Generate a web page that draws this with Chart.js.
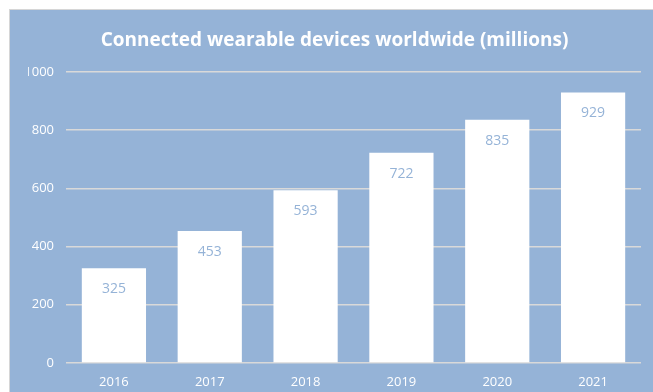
<!DOCTYPE html>
<html>
<head>
<meta charset="utf-8">
<script src="https://cdn.jsdelivr.net/npm/chart.js@4"></script>
<style>
  html, body { margin: 0; padding: 0; background: #fff; }
  #wrap {
    position: absolute; left: 9px; top: 9px; width: 644px; height: 383px;
    border-left: 1px solid #d6d6d6; border-top: 1px solid #d6d6d6;
    background: #95b3d7;
  }
</style>
</head>
<body>
<div id="wrap"><canvas id="wearChart"></canvas></div>
<script>
var years = ['2016', '2017', '2018', '2019', '2020', '2021'];
var devices = [325, 453, 593, 722, 835, 929];
var yTicks = [0, 200, 400, 600, 800, 1000];

// draws the number inside the top of each bar
var valueLabels = {
    id: 'valueLabels',
    afterDatasetsDraw: function (chart) {
        var ctx = chart.ctx;
        var meta = chart.getDatasetMeta(0);
        ctx.save();
        ctx.fillStyle = '#95b3d7';
        ctx.font = '14px "Open Sans", sans-serif';
        ctx.textAlign = 'center';
        ctx.textBaseline = 'middle';
        meta.data.forEach(function (bar, i) {
            ctx.fillText(devices[i], bar.x, bar.y + 21);
        });
        ctx.restore();
    }
};

var ctx = document.getElementById('wearChart');
new Chart(ctx, {
    type: 'bar',
    data: {
        labels: years,
        datasets: [{
            data: devices,
            backgroundColor: '#ffffff',
            barPercentage: 0.67,
            categoryPercentage: 1
        }]
    },
    options: {
        responsive: true,
        maintainAspectRatio: false,
        animation: false,
        layout: { padding: { top: 0, right: 13, bottom: 0, left: 18 } },
        plugins: {
            legend: { display: false },
            tooltip: { enabled: false },
            title: {
                display: true,
                text: 'Connected wearable devices worldwide (millions)',
                color: '#ffffff',
                font: { family: '"Open Sans", sans-serif', size: 19, weight: 'bold' },
                padding: { top: 19, bottom: 20 }
            }
        },
        scales: {
            x: {
                afterFit: function (scale) { scale.height = 30; },
                grid: { display: false, drawTicks: false },
                border: { display: false },
                ticks: {
                    color: '#ffffff',
                    font: { family: '"Open Sans", sans-serif', size: 13 },
                    padding: 11
                }
            },
            y: {
                min: 0,
                max: 1000,
                afterFit: function (scale) { scale.width = 38; },
                afterBuildTicks: function (scale) {
                    scale.ticks = yTicks.map(function (v) { return { value: v }; });
                },
                grid: { color: '#d9d9d9', lineWidth: 1.5, drawTicks: false },
                border: { display: false },
                ticks: {
                    color: '#ffffff',
                    font: { family: '"Open Sans", sans-serif', size: 13 },
                    padding: 12,
                    callback: function (v) { return String(v); }
                }
            }
        }
    },
    plugins: [valueLabels]
});
</script>
</body>
</html>
